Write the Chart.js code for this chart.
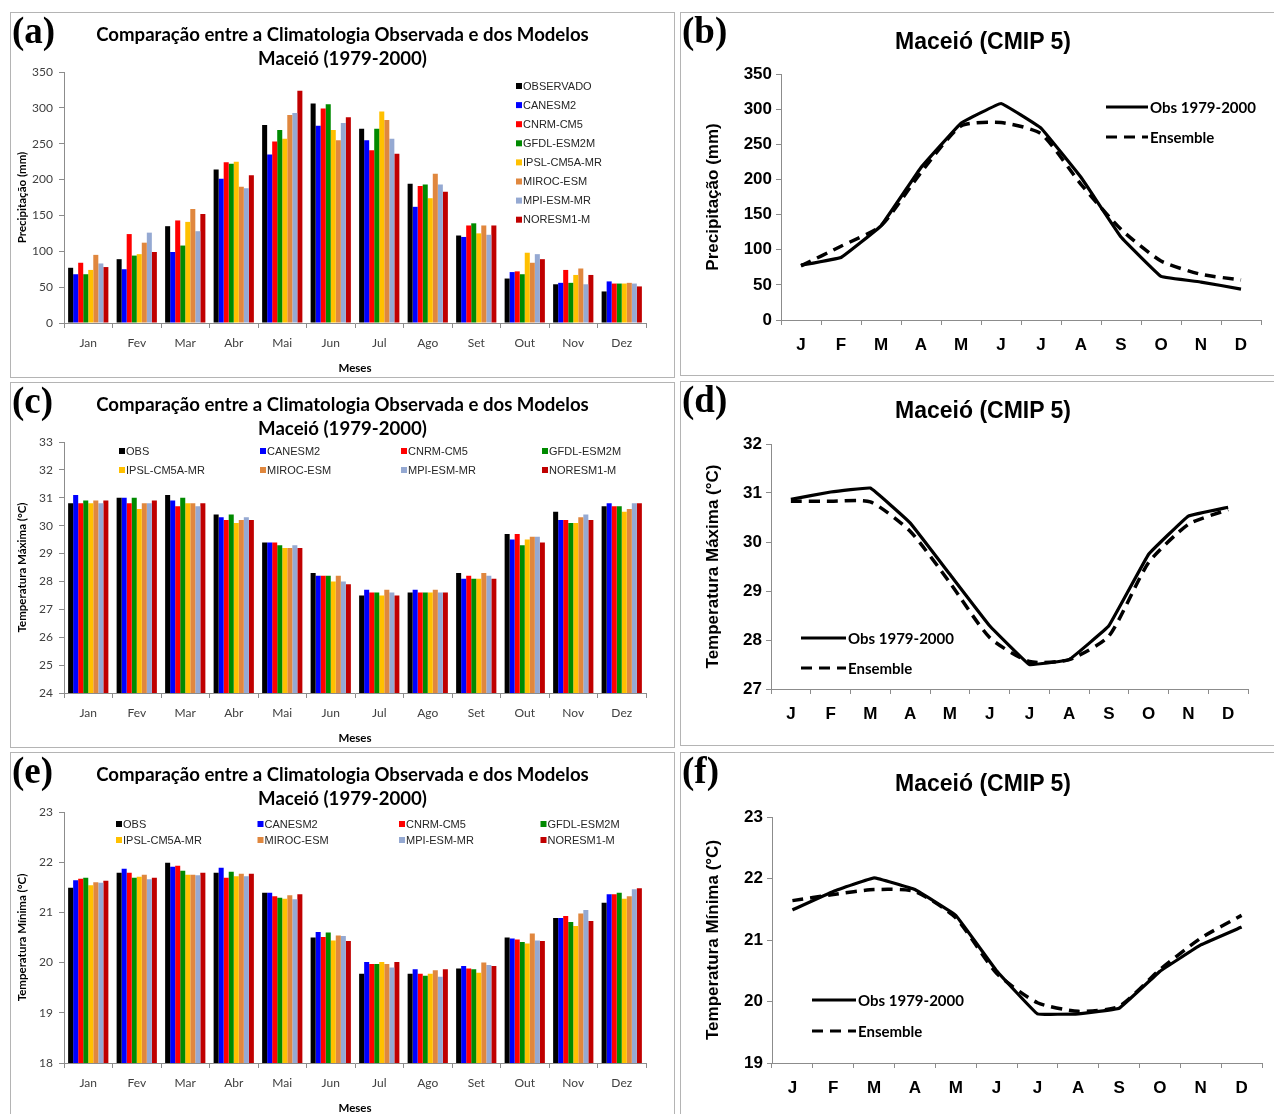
<!DOCTYPE html>
<html>
<head>
<meta charset="utf-8">
<script src="https://cdn.jsdelivr.net/npm/chart.js@4.4.0/dist/chart.umd.min.js"></script>
<style>
  html, body { margin: 0; padding: 0; background: #fff; width: 1274px; height: 1114px; overflow: hidden; }
  .caixa { position: absolute; border: 1px solid #b4b4b4; box-sizing: border-box; overflow: hidden; background: #fff; }
  .caixa canvas { position: absolute; left: 0; top: 0; }
  .letra { position: absolute; left: 1px; top: -4px; font: bold 37px "Liberation Serif"; color: #000; }
  .tit2 { position: absolute; left: 0; width: 100%; top: 9px; text-align: center; font: bold 18.6px Lato; line-height: 24px; color: #000; }
  .tit1 { position: absolute; left: 202px; width: 200px; text-align: center; font: bold 23px "Liberation Sans"; line-height: 28px; color: #000; }
</style>
</head>
<body>

<div class="caixa" style="left:10px;top:12px;width:665px;height:366px">
  <canvas id="gA" width="665" height="366"></canvas>
  <div class="letra">(a)</div>
  <div class="tit2">Comparação entre a Climatologia Observada e dos Modelos<br>Maceió (1979-2000)</div>
</div>
<div class="caixa" style="left:10px;top:382px;width:665px;height:366px">
  <canvas id="gC" width="665" height="366"></canvas>
  <div class="letra">(c)</div>
  <div class="tit2">Comparação entre a Climatologia Observada e dos Modelos<br>Maceió (1979-2000)</div>
</div>
<div class="caixa" style="left:10px;top:752px;width:665px;height:366px">
  <canvas id="gE" width="665" height="366"></canvas>
  <div class="letra">(e)</div>
  <div class="tit2">Comparação entre a Climatologia Observada e dos Modelos<br>Maceió (1979-2000)</div>
</div>

<div class="caixa" style="left:680px;top:12px;width:600px;height:364px">
  <canvas id="gB" width="594" height="364"></canvas>
  <div class="letra">(b)</div>
  <div class="tit1" style="top:14px">Maceió (CMIP 5)</div>
</div>
<div class="caixa" style="left:680px;top:381px;width:600px;height:365px">
  <canvas id="gD" width="594" height="365"></canvas>
  <div class="letra">(d)</div>
  <div class="tit1" style="top:14px">Maceió (CMIP 5)</div>
</div>
<div class="caixa" style="left:680px;top:752px;width:600px;height:366px">
  <canvas id="gF" width="594" height="366"></canvas>
  <div class="letra">(f)</div>
  <div class="tit1" style="top:16px">Maceió (CMIP 5)</div>
</div>

<script>
// categorias
const meses = ['Jan', 'Fev', 'Mar', 'Abr', 'Mai', 'Jun', 'Jul', 'Ago', 'Set', 'Out', 'Nov', 'Dez'];
const mesesLetra = ['J', 'F', 'M', 'A', 'M', 'J', 'J', 'A', 'S', 'O', 'N', 'D'];
const modelosA = ['OBSERVADO', 'CANESM2', 'CNRM-CM5', 'GFDL-ESM2M', 'IPSL-CM5A-MR', 'MIROC-ESM', 'MPI-ESM-MR', 'NORESM1-M'];
const modelosT = ['OBS', 'CANESM2', 'CNRM-CM5', 'GFDL-ESM2M', 'IPSL-CM5A-MR', 'MIROC-ESM', 'MPI-ESM-MR', 'NORESM1-M'];
const cores = ['#000000', '#0000ff', '#ff0000', '#008a00', '#ffc000', '#e0873e', '#95a9d2', '#c00000'];

// (a) precipitacao (mm)
const prObs     = [77, 89, 135, 214, 276, 306, 271, 194, 122, 62, 54, 44];
const prCanesm2 = [68, 75, 99, 201, 235, 275, 255, 162, 120, 71, 56, 58];
const prCnrm    = [84, 124, 143, 224, 253, 299, 241, 191, 136, 72, 74, 55];
const prGfdl    = [68, 94, 108, 222, 269, 305, 271, 193, 139, 68, 56, 55];
const prIpsl    = [74, 96, 141, 225, 257, 269, 295, 174, 125, 98, 67, 55];
const prMiroc   = [95, 112, 159, 190, 290, 255, 283, 208, 136, 84, 76, 56];
const prMpi     = [83, 126, 128, 188, 293, 279, 257, 193, 123, 96, 54, 55];
const prNoresm  = [78, 99, 152, 206, 324, 287, 236, 183, 136, 89, 67, 51];

// (c) temperatura maxima (C)
const txObs     = [30.8, 31.0, 31.1, 30.4, 29.4, 28.3, 27.5, 27.6, 28.3, 29.7, 30.5, 30.7];
const txCanesm2 = [31.1, 31.0, 30.9, 30.3, 29.4, 28.2, 27.7, 27.7, 28.1, 29.5, 30.2, 30.8];
const txCnrm    = [30.8, 30.8, 30.7, 30.2, 29.4, 28.2, 27.6, 27.6, 28.2, 29.7, 30.2, 30.7];
const txGfdl    = [30.9, 31.0, 31.0, 30.4, 29.3, 28.2, 27.6, 27.6, 28.1, 29.3, 30.1, 30.7];
const txIpsl    = [30.8, 30.6, 30.8, 30.1, 29.2, 28.0, 27.5, 27.6, 28.1, 29.5, 30.1, 30.5];
const txMiroc   = [30.9, 30.8, 30.8, 30.2, 29.2, 28.2, 27.7, 27.7, 28.3, 29.6, 30.3, 30.6];
const txMpi     = [30.8, 30.8, 30.7, 30.3, 29.3, 28.0, 27.6, 27.6, 28.2, 29.6, 30.4, 30.8];
const txNoresm  = [30.9, 30.9, 30.8, 30.2, 29.2, 27.9, 27.5, 27.6, 28.1, 29.4, 30.2, 30.8];

// (e) temperatura minima (C)
const tnObs     = [21.49, 21.79, 21.99, 21.79, 21.39, 20.50, 19.78, 19.78, 19.88, 20.50, 20.89, 21.19];
const tnCanesm2 = [21.64, 21.87, 21.91, 21.89, 21.39, 20.61, 20.01, 19.87, 19.93, 20.48, 20.89, 21.36];
const tnCnrm    = [21.67, 21.79, 21.93, 21.69, 21.32, 20.51, 19.97, 19.78, 19.88, 20.46, 20.93, 21.36];
const tnGfdl    = [21.69, 21.69, 21.83, 21.81, 21.29, 20.60, 19.97, 19.74, 19.87, 20.41, 20.81, 21.39];
const tnIpsl    = [21.54, 21.71, 21.75, 21.72, 21.27, 20.44, 20.01, 19.78, 19.80, 20.38, 20.73, 21.27];
const tnMiroc   = [21.60, 21.75, 21.75, 21.77, 21.34, 20.54, 19.97, 19.85, 20.00, 20.58, 20.98, 21.32];
const tnMpi     = [21.59, 21.66, 21.74, 21.72, 21.26, 20.53, 19.90, 19.72, 19.95, 20.44, 21.05, 21.46];
const tnNoresm  = [21.63, 21.69, 21.79, 21.77, 21.36, 20.43, 20.01, 19.87, 19.93, 20.43, 20.83, 21.48];

// (b), (d), (f) observado x ensemble
const linPrObs = [78, 89, 134, 217, 280, 308, 273, 203, 118, 62, 54, 44];
const linPrEns = [77, 105, 134, 210, 276, 281, 265, 193, 129, 84, 65, 57];
const linTxObs = [30.87, 31.02, 31.1, 30.39, 29.34, 28.29, 27.5, 27.6, 28.29, 29.75, 30.53, 30.71];
const linTxEns = [30.83, 30.83, 30.82, 30.22, 29.17, 28.05, 27.56, 27.6, 28.08, 29.58, 30.36, 30.66];
const linTnObs = [21.49, 21.79, 22.01, 21.82, 21.40, 20.50, 19.80, 19.80, 19.89, 20.49, 20.92, 21.21];
const linTnEns = [21.64, 21.74, 21.82, 21.79, 21.36, 20.46, 19.98, 19.84, 19.92, 20.52, 21.03, 21.40];

Chart.defaults.font.family = 'Lato';

// legenda com quadradinhos, desenhada a partir dos datasets
const legendaCaixas = {
  id: 'legendaCaixas',
  afterDraw(chart, args, o) {
    if (o.x === undefined) return;
    const ctx = chart.ctx;
    ctx.save();
    ctx.font = '11px "Liberation Sans"';
    ctx.textBaseline = 'middle';
    chart.data.datasets.forEach((ds, i) => {
      const col = i % o.cols, lin = Math.floor(i / o.cols);
      const x = o.x + col * o.colW, y = o.y + lin * o.rowH;
      ctx.fillStyle = ds.backgroundColor;
      ctx.fillRect(x, y - 3, 6, 6);
      ctx.fillStyle = '#262626';
      ctx.fillText(ds.label, x + 7, y + 0.5);
    });
    ctx.restore();
  }
};

// legenda das linhas (Obs / Ensemble)
const legendaLinhas = {
  id: 'legendaLinhas',
  afterDraw(chart, args, o) {
    if (o.x === undefined) return;
    const ctx = chart.ctx;
    ctx.save();
    ctx.font = 'bold 15px Lato';
    ctx.textBaseline = 'middle';
    chart.data.datasets.forEach((ds, i) => {
      const y = o.y + i * o.rowH;
      ctx.strokeStyle = '#000';
      ctx.lineWidth = 3;
      ctx.setLineDash(ds.borderDash || []);
      ctx.beginPath();
      ctx.moveTo(o.x, y);
      ctx.lineTo(o.x + o.len, y);
      ctx.stroke();
      ctx.setLineDash([]);
      ctx.fillStyle = '#000';
      ctx.fillText(ds.label, o.x + o.len + 2, y + 1);
    });
    ctx.restore();
  }
};

function graficoBarras(id, nomes, series, yMin, yMax, yTitulo, leg) {
  const cinza = '#8c8c8c';
  new Chart(document.getElementById(id), {
    type: 'bar',
    data: {
      labels: meses,
      datasets: series.map((s, i) => ({
        label: nomes[i],
        data: s,
        backgroundColor: cores[i],
        borderWidth: 0,
        barPercentage: 1.0,
        categoryPercentage: 0.83
      }))
    },
    options: {
      responsive: false,
      animation: false,
      layout: { padding: { top: 59, right: 30, left: 0, bottom: 0 } },
      plugins: { legend: { display: false }, tooltip: { enabled: false }, legendaCaixas: leg },
      scales: {
        x: {
          grid: { offset: true, drawOnChartArea: false, tickLength: 5, color: cinza },
          border: { color: cinza },
          ticks: { font: { size: 12 }, color: '#404040', padding: 8 },
          title: { display: true, text: 'Meses', font: { size: 11.5, weight: 'bold' }, color: '#000', padding: { top: 0, bottom: 4 } },
          afterFit: s => { s.height = 56; }
        },
        y: {
          min: yMin, max: yMax,
          grid: { drawOnChartArea: false, tickLength: 5, color: cinza },
          border: { color: cinza },
          ticks: { font: { size: 12 }, color: '#404040', padding: 6, stepSize: yMin === 0 ? 50 : 1 },
          title: { display: true, text: yTitulo, font: { size: 11.5, weight: 'bold' }, color: '#000', padding: { top: 4, bottom: 0 } },
          afterFit: s => { s.width = 53; }
        }
      }
    },
    plugins: [legendaCaixas]
  });
}

function graficoLinhas(id, obs, ens, yMin, yMax, passo, yTitulo, lay, leg) {
  const cinza = '#8c8c8c';
  new Chart(document.getElementById(id), {
    type: 'line',
    data: {
      labels: mesesLetra,
      datasets: [
        { label: 'Obs 1979-2000', data: obs, borderColor: '#000', borderWidth: 3.2, pointRadius: 0, tension: 0.06, fill: false },
        { label: 'Ensemble', data: ens, borderColor: '#000', borderWidth: 3.5, borderDash: [11, 7], pointRadius: 0, tension: 0.2, fill: false }
      ]
    },
    options: {
      responsive: false,
      animation: false,
      layout: { padding: { top: lay.top, right: lay.right, left: 18, bottom: 0 } },
      plugins: { legend: { display: false }, tooltip: { enabled: false }, legendaLinhas: leg },
      scales: {
        x: {
          offset: true,
          grid: { offset: true, drawOnChartArea: false, tickLength: 5, color: cinza },
          border: { color: cinza },
          ticks: { font: { family: 'Liberation Sans', size: 17, weight: 'bold' }, color: '#000', padding: 10 },
          afterFit: s => { s.height = lay.xh; }
        },
        y: {
          min: yMin, max: yMax,
          grid: { drawOnChartArea: false, tickLength: 5, color: cinza },
          border: { color: cinza },
          ticks: { font: { family: 'Liberation Sans', size: 17, weight: 'bold' }, color: '#000', padding: 4, stepSize: passo },
          title: { display: true, text: yTitulo, font: { family: 'Liberation Sans', size: 17, weight: 'bold' }, color: '#000', padding: { top: 4, bottom: 0 } },
          afterFit: s => { s.width = lay.yw; }
        }
      }
    },
    plugins: [legendaLinhas]
  });
}

graficoBarras('gA', modelosA,
  [prObs, prCanesm2, prCnrm, prGfdl, prIpsl, prMiroc, prMpi, prNoresm],
  0, 350, 'Precipitação (mm)', { x: 505, y: 73, cols: 1, colW: 0, rowH: 19.1 });
graficoBarras('gC', modelosT,
  [txObs, txCanesm2, txCnrm, txGfdl, txIpsl, txMiroc, txMpi, txNoresm],
  24, 33, 'Temperatura Máxima (°C)', { x: 108, y: 68, cols: 4, colW: 141, rowH: 19 });
graficoBarras('gE', modelosT,
  [tnObs, tnCanesm2, tnCnrm, tnGfdl, tnIpsl, tnMiroc, tnMpi, tnNoresm],
  18, 23, 'Temperatura Mínima (°C)', { x: 105, y: 71, cols: 4, colW: 141.5, rowH: 16 });

graficoLinhas('gB', linPrObs, linPrEns, 0, 350, 50, 'Precipitação (mm)',
  { top: 61, right: 14, yw: 82, xh: 57 }, { x: 425, y: 94, rowH: 30, len: 42 });
graficoLinhas('gD', linTxObs, linTxEns, 27, 32, 1, 'Temperatura Máxima (°C)',
  { top: 62, right: 27, yw: 72, xh: 58 }, { x: 120, y: 256, rowH: 30, len: 45 });
graficoLinhas('gF', linTnObs, linTnEns, 19, 23, 1, 'Temperatura Mínima (°C)',
  { top: 64, right: 13, yw: 73, xh: 56 }, { x: 131, y: 247, rowH: 31, len: 44 });
</script>
</body>
</html>
